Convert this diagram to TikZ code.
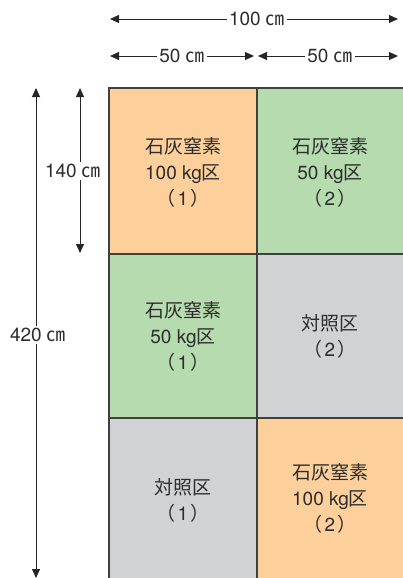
\documentclass[tikz,border=0pt]{standalone}
\usepackage{fontspec}
\setmainfont{TeX Gyre Heros}
\newfontfamily\jp{Noto Sans CJK JP}
\usetikzlibrary{arrows.meta}
\definecolor{cOrange}{RGB}{253,207,155}
\definecolor{cGreen}{RGB}{181,219,174}
\definecolor{cGray}{RGB}{209,210,212}
\definecolor{cLine}{RGB}{64,64,64}
\definecolor{cText}{RGB}{45,45,45}
\newcommand{\cmu}{{\jp ㎝}}
\newcommand{\pnum}[1]{{\jp （}\hspace{2pt}#1\hspace{2pt}{\jp ）}}
\tikzset{
  cell/.style={draw=cLine, line width=1.8pt},
  celltext/.style={text=cText, align=center, font=\fontsize{19}{26}\selectfont},
  dim/.style={draw=black!85, line width=0.9pt, {Triangle[length=9pt,width=8pt]}-{Triangle[length=9pt,width=8pt]}},
  dimlabel/.style={fill=white, inner sep=2pt, text=cText, font=\fontsize{19}{20}\selectfont}
}
\begin{document}
\begin{tikzpicture}[x=1pt,y=-1pt]
\useasboundingbox (0,0) rectangle (403,578);
% cells
\path[cell, fill=cOrange] (109,88) rectangle (257,254);
\path[cell, fill=cGreen] (257,88) rectangle (410,254);
\path[cell, fill=cGreen] (109,254) rectangle (257,418);
\path[cell, fill=cGray] (257,254) rectangle (410,418);
\path[cell, fill=cGray] (109,418) rectangle (257,590);
\path[cell, fill=cOrange] (257,418) rectangle (410,590);
% cell texts
\node[celltext] (c11) at (183,172) {{\jp 石灰窒素}\\100 kg{\jp 区}\\\pnum{1}};
\node[celltext] (c12) at (330,172) {{\jp 石灰窒素}\\50 kg{\jp 区}\\\pnum{2}};
\node[celltext] (c21) at (183,336) {{\jp 石灰窒素}\\50 kg{\jp 区}\\\pnum{1}};
\node[celltext] (c22) at (330,336) {{\jp 対照区}\\\pnum{2}};
\node[celltext] (c31) at (183,500) {{\jp 対照区}\\\pnum{1}};
\node[celltext] (c32) at (330,498) {{\jp 石灰窒素}\\100 kg{\jp 区}\\\pnum{2}};
% horizontal dimensions
\coordinate (h1a) at (110,19);
\coordinate (h1b) at (398,19);
\draw[dim] (h1a) -- (h1b);
\node[dimlabel] (l100) at (257,19) {100 \cmu};
\coordinate (h2a) at (110,56);
\coordinate (h2b) at (254,56);
\coordinate (h2c) at (258,56);
\coordinate (h2d) at (398,56);
\draw[dim] (h2a) -- (h2b);
\draw[dim] (h2c) -- (h2d);
\node[dimlabel] (l50a) at (182,56) {50 \cmu};
\node[dimlabel] (l50b) at (330,56) {50 \cmu};
% vertical dimensions
\coordinate (v1a) at (36,88);
\coordinate (v1b) at (36,578);
\draw[dim] (v1a) -- (v1b);
\node[dimlabel] (l420) at (38,335) {420 \cmu};
\coordinate (v2a) at (80,88);
\coordinate (v2b) at (80,253);
\draw[dim] (v2a) -- (v2b);
\node[dimlabel] (l140) at (73,171) {140 \cmu};
\end{tikzpicture}
\end{document}
